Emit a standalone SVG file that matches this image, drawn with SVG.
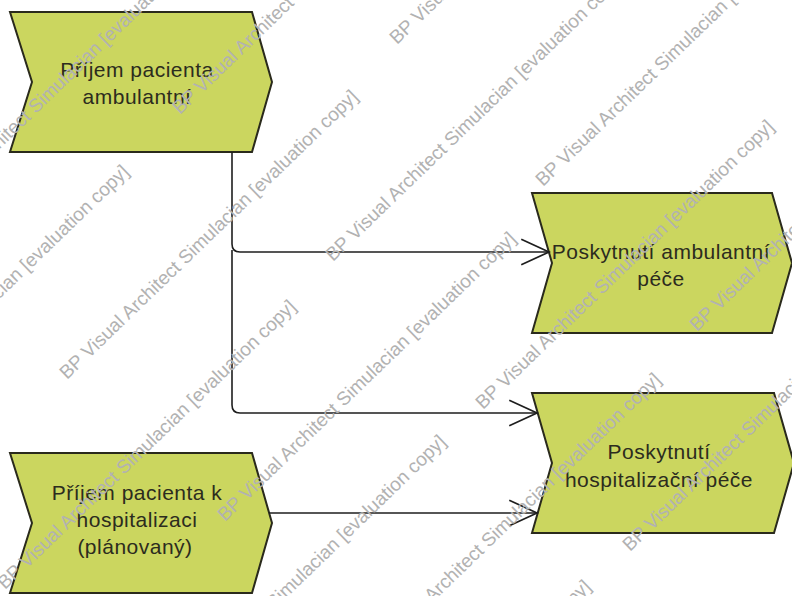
<svg xmlns="http://www.w3.org/2000/svg" width="792" height="596" viewBox="0 0 792 596">
  <defs>
    <style>
      .wm { font-family: "Liberation Sans", Arial, sans-serif; font-size: 19px; fill: #b2b2b2; }
      .step { fill: #cbd65f; stroke: #2a2a1c; stroke-width: 2; stroke-linejoin: miter; }
      .label { font-family: "Liberation Sans", Arial, sans-serif; font-size: 21px; letter-spacing: 0.5px; fill: #2c2c1e; text-anchor: middle; }
      .flow { fill: none; stroke: #1e1e1e; stroke-width: 1.6; }
    </style>
    <marker id="open-arrow" markerUnits="userSpaceOnUse" markerWidth="32" markerHeight="32" refX="0" refY="0" viewBox="-28 -15 30 30" orient="auto" overflow="visible">
      <path d="M-26,-12 L0,0 L-26,12" fill="none" stroke="#1e1e1e" stroke-width="1.6"/>
    </marker>
  </defs>

  <rect width="792" height="596" fill="#ffffff"/>

  <!-- process steps (value-chain chevrons) -->
  <g id="prijem-ambulantni">
    <polygon class="step" points="10,12 252,12 272,82 252,152 10,152 32,82"/>
    <text class="label" x="137" y="77">Příjem pacienta</text>
    <text class="label" x="137" y="104">ambulantní</text>
  </g>
  <g id="poskytnuti-ambulantni">
    <polygon class="step" points="532,193 772,193 792,263 772,333 532,333 552,263"/>
    <text class="label" x="661" y="259">Poskytnutí ambulantní</text>
    <text class="label" x="661" y="286">péče</text>
  </g>
  <g id="poskytnuti-hospitalizacni">
    <polygon class="step" points="532,393 774,393 794,463 774,533 532,533 552,463"/>
    <text class="label" x="659" y="459">Poskytnutí</text>
    <text class="label" x="659" y="487">hospitalizační péče</text>
  </g>
  <g id="prijem-hospitalizace">
    <polygon class="step" points="10,453 252,453 272,523 252,593 10,593 32,523"/>
    <text class="label" x="137" y="500">Příjem pacienta k</text>
    <text class="label" x="137" y="527">hospitalizaci</text>
    <text class="label" x="135" y="554">(plánovaný)</text>
  </g>

  <!-- control flow -->
  <g id="connectors">
    <path class="flow" d="M232,152 V244 Q232,252 240,252 H549" marker-end="url(#open-arrow)"/>
    <path class="flow" d="M232,250 V405 Q232,413 240,413 H537" marker-end="url(#open-arrow)"/>
    <path class="flow" d="M269,513 H537" marker-end="url(#open-arrow)"/>
  </g>

  <!-- evaluation watermark, repeated diagonally -->
  <g id="watermark">
    <text class="wm" transform="translate(-83,229) rotate(-44)">BP Visual Architect Simulacian [evaluation copy]</text>
    <text class="wm" transform="translate(180,115) rotate(-44)">BP Visual Architect Simulacian [evaluation copy]</text>
    <text class="wm" transform="translate(397,45) rotate(-44)">BP Visual Architect Simulacian [evaluation copy]</text>
    <text class="wm" transform="translate(543,187) rotate(-44)">BP Visual Architect Simulacian [evaluation copy]</text>
    <text class="wm" transform="translate(333,262) rotate(-44)">BP Visual Architect Simulacian [evaluation copy]</text>
    <text class="wm" transform="translate(67,380) rotate(-44)">BP Visual Architect Simulacian [evaluation copy]</text>
    <text class="wm" transform="translate(-162,455) rotate(-44)">BP Visual Architect Simulacian [evaluation copy]</text>
    <text class="wm" transform="translate(483,410) rotate(-44)">BP Visual Architect Simulacian [evaluation copy]</text>
    <text class="wm" transform="translate(697,332) rotate(-44)">BP Visual Architect Simulacian [evaluation copy]</text>
    <text class="wm" transform="translate(630,552) rotate(-44)">BP Visual Architect Simulacian [evaluation copy]</text>
    <text class="wm" transform="translate(225,522) rotate(-44)">BP Visual Architect Simulacian [evaluation copy]</text>
    <text class="wm" transform="translate(5,590) rotate(-44)">BP Visual Architect Simulacian [evaluation copy]</text>
    <text class="wm" transform="translate(370,663) rotate(-44)">BP Visual Architect Simulacian [evaluation copy]</text>
    <text class="wm" transform="translate(155,725) rotate(-44)">BP Visual Architect Simulacian [evaluation copy]</text>
    <text class="wm" transform="translate(300,870) rotate(-44)">BP Visual Architect Simulacian [evaluation copy]</text>
  </g>
</svg>
